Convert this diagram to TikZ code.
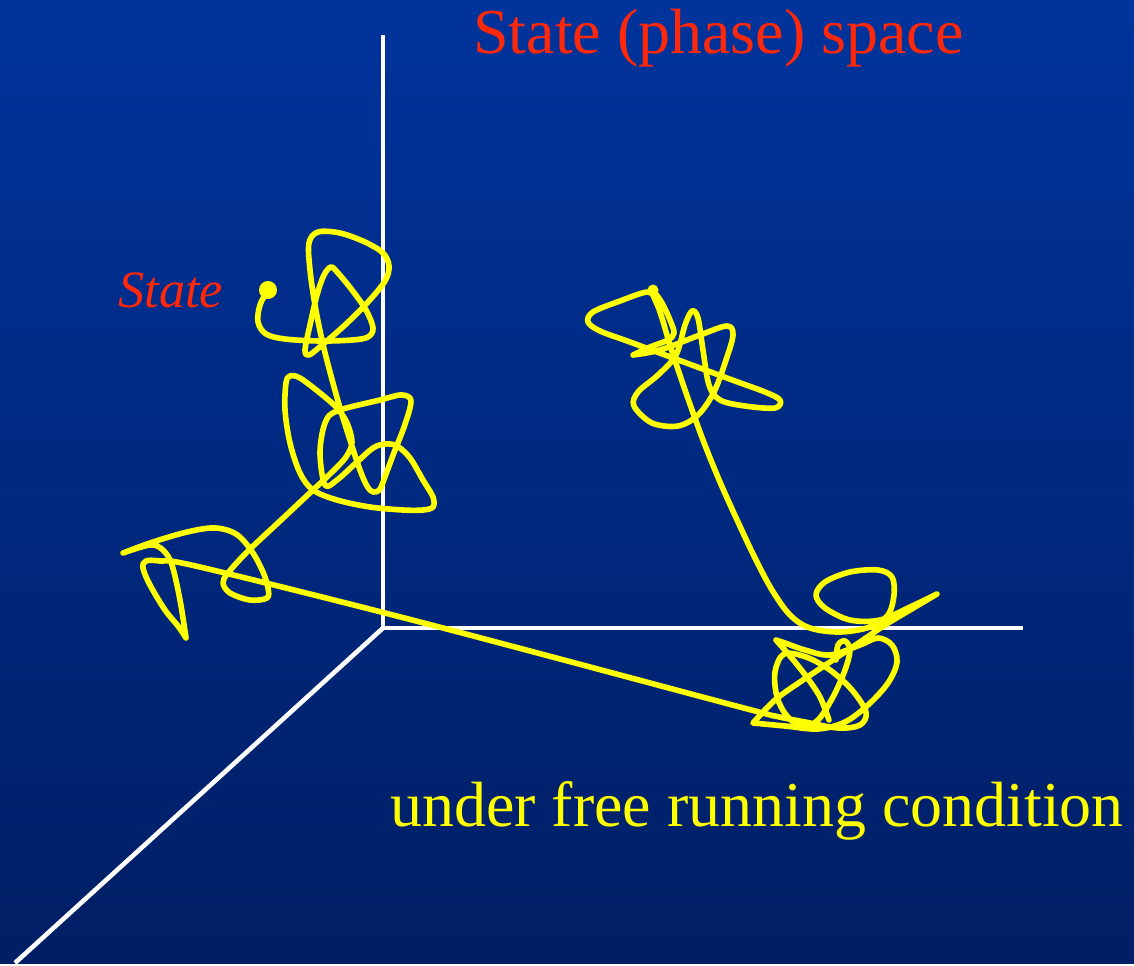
\documentclass[tikz,border=0pt]{standalone}
\usepackage{fontspec}
\setmainfont{Liberation Serif}
\definecolor{bgtop}{RGB}{0,52,156}
\definecolor{bgbot}{RGB}{0,30,100}
\definecolor{titlered}{RGB}{255,40,10}
\definecolor{trajyellow}{RGB}{255,255,0}
\begin{document}
\begin{tikzpicture}[x=0.02cm, y=-0.02cm,
    traj/.style={trajyellow, line width=3.2pt, line cap=round, line join=round},
    axis/.style={white, line width=2.6pt},
    lbl/.style={anchor=base west, inner sep=0pt}]
    \shade[top color=bgtop, bottom color=bgbot] (0,0) rectangle (1134,963);
    % axes
    \coordinate (O) at (383,628);
    \coordinate (yend) at (383,35);
    \coordinate (xend) at (1023,628);
    \coordinate (zend) at (15,963);
    \draw[axis] (yend) -- (O) -- (xend);
    \draw[axis] (O) -- (zend);
    % texts
    \node[lbl, text=titlered, font=\fontsize{36.4}{40}\selectfont] (title) at (473,53) {State (phase) space};
    \node[lbl, text=titlered, font=\fontsize{29.8}{32}\selectfont\itshape] (statelbl) at (118,307) {State};
    \node[lbl, text=trajyellow, font=\fontsize{36.4}{40}\selectfont] (caption) at (390,826) {under free running condition};
    % first trajectory
    \coordinate (start1) at (268,290);
    \fill[trajyellow] (start1) circle[radius=1.8mm];
    \draw[traj] plot[smooth, tension=0.55] coordinates {(268,290) (260,305) (258,322) (266,334) (285,339)
        (320,341) (352,340) (368,337) (373,328) (366,310) (352,290) (338,273) (331,267) (324,275)
        (317,295) (310,325) (305,350) (309,355) (322,345) (345,325) (368,302) (385,281) (389,266)
        (383,253) (365,242) (340,233) (318,232) (309,243) (310,270) (315,305) (322,340) (330,372)
        (340,408) (350,440) (360,470) (367,486) (373,492) (380,489) (386,474) (395,450) (403,430)
        (410,408) (410,398) (400,395) (380,400) (337,411) (325,423) (320,453) (325,485) (337,480)
        (357,462) (373,448) (385,444) (397,446) (410,458) (423,480) (433,497) (433,507) (423,510)
        (403,510) (370,507) (337,500) (313,490) (300,473) (290,443) (285,410) (286,383) (290,376)
        (300,378) (320,393) (337,408) (347,423) (352,442) (346,457) (330,474) (313,490)
        (280,521) (247,552) (228,573) (223,583) (230,593) (250,600) (267,598) (268,588) (263,572)
        (253,553) (240,537) (227,530) (210,528) (183,533) (150,543) (123,553)}
      -- plot[smooth, tension=0.55] coordinates {(123,553) (150,545) (163,550) (172,565) (180,600) (186,638)}
      -- plot[smooth, tension=0.55] coordinates {(186,638) (178,626) (165,610) (150,585) (143,568)
        (146,561) (160,561) (200,567) (420,622) (740,707) (775,716) (805,722) (838,728) (860,725)
        (866,712) (852,690) (830,670) (806,657) (784,654) (775,672) (777,697) (787,716) (802,727)
        (818,720) (833,697) (845,670) (850,650) (845,641) (838,645) (836,660)};
    % second trajectory
    \coordinate (start2) at (653,290);
    \fill[trajyellow] (start2) circle[radius=1.1mm];
    \draw[traj] plot[smooth, tension=0.55] coordinates {(653,290) (662,303) (670,320) (674,333) (668,340)
        (650,347) (633,355)}
      -- plot[smooth, tension=0.55] coordinates {(633,355) (660,350) (700,335) (727,326) (733,335)
        (726,360) (714,392) (698,415) (678,426) (652,423) (634,406) (638,392) (658,375) (676,355)
        (685,325) (692,311) (698,318) (703,350) (709,385) (720,400) (745,406) (775,408) (780,400)
        (765,392) (735,381) (700,368) (665,355) (630,342) (600,331) (588,322) (593,312) (620,301)
        (648,292) (656,302) (662,318) (670,345) (685,390) (703,440) (720,482) (738,522) (755,558)
        (772,590) (790,615) (810,628) (840,632) (870,627) (888,615) (894,595) (892,577) (878,570)
        (850,572) (825,582) (816,595) (825,608) (850,620) (880,620) (910,607) (937,594)}
      -- plot[smooth, tension=0.55] coordinates {(937,594) (910,610) (885,625) (860,642) (830,662)
        (800,682) (775,700) (753,723)}
      -- plot[smooth, tension=0.55] coordinates {(753,723) (785,726) (818,729) (845,722) (868,705)
        (888,683) (897,662) (892,645) (878,638) (860,645) (830,655) (805,650) (785,643) (776,640)}
      -- plot[smooth, tension=0.55] coordinates {(776,640) (790,656) (806,676) (820,697) (829,720)};
\end{tikzpicture}
\end{document}
